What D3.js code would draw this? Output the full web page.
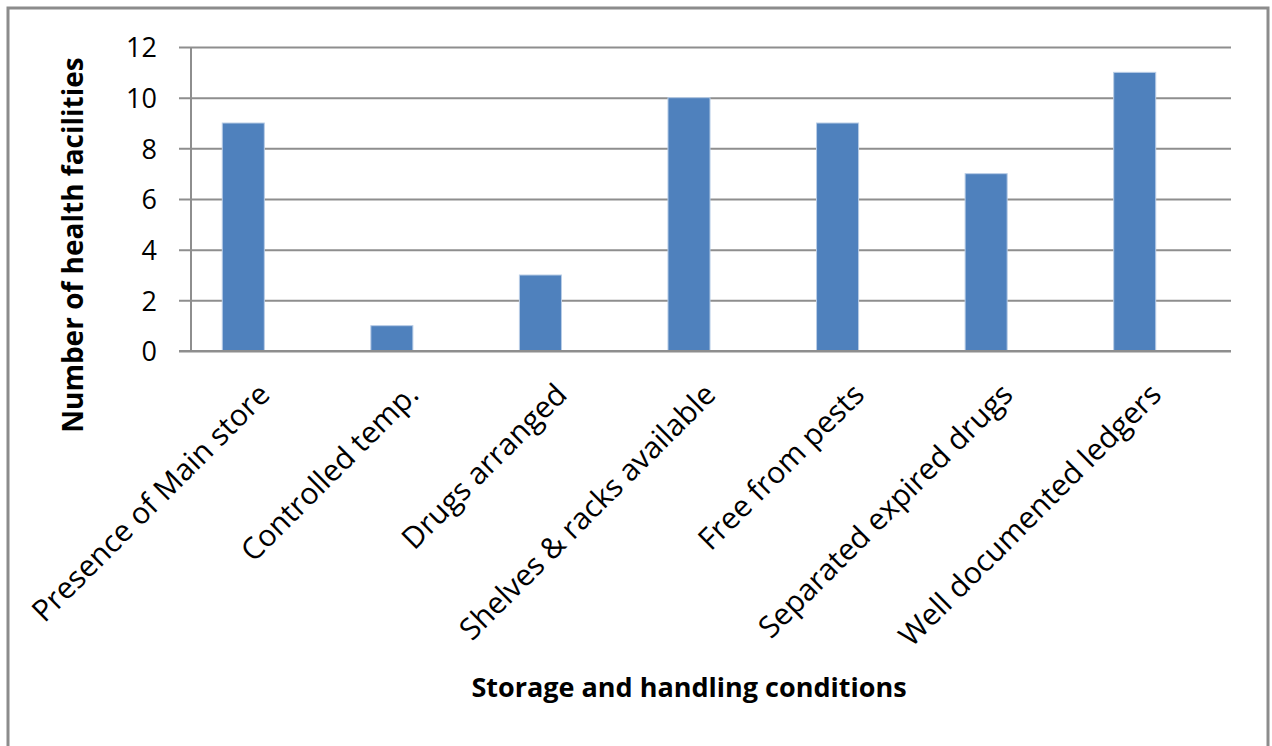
<!DOCTYPE html>
<html>
<head>
<meta charset="utf-8">
<script src="https://cdn.jsdelivr.net/npm/d3@7"></script>
<style>
  html, body { margin: 0; padding: 0; background: #fff; }
  svg { display: block; }
  text { font-family: "Open Sans", "Noto Sans", sans-serif; fill: #000; }
</style>
</head>
<body>
<svg id="chart" width="1272" height="746"></svg>
<script>
// Storage and handling conditions observed across health facilities
const categories = [
  "Presence of Main store",
  "Controlled temp.",
  "Drugs arranged",
  "Shelves & racks available",
  "Free from pests",
  "Separated expired drugs",
  "Well documented ledgers"
];
const facilityCounts = [9, 1, 3, 10, 9, 7, 11];
const yTicks = [0, 2, 4, 6, 8, 10, 12];
const xTitle = "Storage and handling conditions";
const yTitle = "Number of health facilities";

const svg = d3.select("#chart");

// outer chart frame
svg.append("rect")
  .attr("x", 8).attr("y", 8)
  .attr("width", 1260).attr("height", 780)
  .attr("fill", "#fff")
  .attr("stroke", "#8c8c8c")
  .attr("stroke-width", 3);

const plot = { left: 191, right: 1231, top: 47, bottom: 351 };

const y = d3.scaleLinear().domain([0, 12]).range([plot.bottom, plot.top]);

// category axis
const x = d3.scaleBand().domain(categories).range([plot.left, plot.right]);

// bar placement scale
const xb = d3.scaleBand().domain(categories)
  .range([plot.left - 22, plot.right - 22])
  .paddingInner(0.717).paddingOuter(0.3585);

// gridlines + y axis
const yAxis = d3.axisLeft(y).tickValues(yTicks)
  .tickSize(-(plot.right - plot.left + 12))
  .tickFormat(d3.format("d"));

const gy = svg.append("g")
  .attr("transform", `translate(${plot.left - 12},0)`)
  .call(yAxis);
gy.select(".domain").remove();
gy.selectAll(".tick line")
  .attr("stroke", "#8e8e8e")
  .attr("stroke-width", 2);
gy.selectAll(".tick text")
  .attr("x", -22)
  .attr("dy", "0.36em")
  .style("font-size", "27px")
  .attr("fill", "#000");

// vertical axis line
svg.append("line")
  .attr("x1", plot.left).attr("x2", plot.left)
  .attr("y1", y(12)).attr("y2", y(0))
  .attr("stroke", "#8e8e8e").attr("stroke-width", 2);

// bars
svg.append("g").selectAll("rect")
  .data(categories)
  .join("rect")
  .attr("x", d => xb(d))
  .attr("width", xb.bandwidth())
  .attr("y", (d, i) => y(facilityCounts[i]))
  .attr("height", (d, i) => y(0) - y(facilityCounts[i]))
  .attr("fill", "#4f81bd")
  .attr("stroke", "#b9cde6")
  .attr("stroke-width", 1);

// category axis with rotated labels
const xAxis = d3.axisBottom(x).tickSize(0).tickPadding(0);
const gx = svg.append("g")
  .attr("transform", `translate(0,${plot.bottom})`)
  .call(xAxis);
gx.select(".domain").remove();
gx.selectAll(".tick text")
  .attr("text-anchor", "end")
  .attr("dy", "0.35em")
  .attr("transform", "translate(-1,38) rotate(-45)")
  .style("font-size", "30px")
  .attr("fill", "#000");

// horizontal axis line
svg.append("line")
  .attr("x1", plot.left - 12).attr("x2", plot.right)
  .attr("y1", plot.bottom).attr("y2", plot.bottom)
  .attr("stroke", "#8e8e8e").attr("stroke-width", 2);

// axis titles
svg.append("text")
  .attr("x", 689).attr("y", 697)
  .attr("text-anchor", "middle")
  .style("font-size", "27px")
  .style("font-weight", "bold")
  .text(xTitle);

svg.append("text")
  .attr("transform", "translate(83,245) rotate(-90)")
  .attr("text-anchor", "middle")
  .style("font-size", "28px")
  .style("font-weight", "bold")
  .text(yTitle);
</script>
</body>
</html>
